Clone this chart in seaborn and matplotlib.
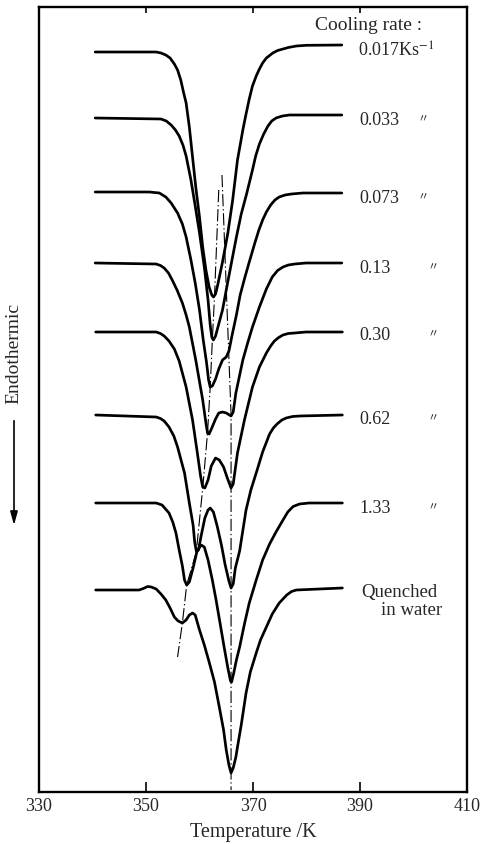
import matplotlib
matplotlib.use("Agg")
import matplotlib.pyplot as plt
import seaborn as sns
import pandas as pd

# ---------------- data (temperature in K, DSC signal in arbitrary units) -------------
cooling_labels = ["0.017", "0.033", "0.073", "0.13", "0.30", "0.62", "1.33", "Quenched"]

T_0017 = [340.5, 351.9, 352.8, 353.7, 354.5, 355.3, 355.9, 356.5, 357.0, 357.5, 358.1, 358.7,
          359.3, 360.0, 360.6, 361.2, 361.8, 362.3, 362.6, 363.0, 363.4, 364.3, 365.3, 366.2,
          367.1, 368.1, 368.7, 369.3, 369.9, 370.6, 371.2, 371.8, 372.5, 373.7, 374.6, 375.6,
          376.6, 378.1, 380.0, 386.6]
S_0017 = [0, 0, -1, -3, -6, -12, -18, -28, -40, -51, -75, -105,
          -135, -165, -195, -218, -235, -243, -245, -242, -233, -210, -181, -148,
          -108, -78, -62, -47, -34, -24, -17, -11, -6, -1, 1.5, 3,
          4.5, 6, 6.7, 7]

T_0033 = [340.5, 352.8, 353.8, 354.7, 355.5, 356.2, 356.9, 357.5, 358.4, 359.2, 360.0, 360.9,
          361.6, 362.0, 362.3, 362.6, 363.0, 363.5, 364.3, 365.0, 366.0, 366.9, 367.8, 368.8,
          369.9, 370.5, 371.2, 372.0, 372.8, 373.5, 374.3, 375.5, 376.8, 386.6]
S_0033 = [0, -1, -3, -7, -12, -18, -27, -38, -62, -88, -115, -149,
          -182, -207, -219, -222, -218, -208, -192, -172, -144, -119, -96, -76,
          -52, -38, -26, -16, -8, -3, 0, 2, 3, 3]

T_0073 = [340.5, 350.6, 352.5, 353.7, 354.7, 355.9, 356.8, 357.5, 358.4, 359.2, 360.0, 360.7,
          361.3, 361.7, 362.0, 362.4, 363.0, 363.6, 364.3, 365.0, 365.5, 366.1, 366.9, 367.6,
          368.5, 369.3, 370.4, 371.1, 371.8, 372.5, 373.3, 374.1, 374.9, 376.0, 377.2, 379.3,
          386.6]
S_0073 = [0, 0, -1, -5, -11, -21, -32, -45, -68, -91, -118, -148,
          -170, -188, -195, -194, -187, -177, -168, -165, -159, -143, -123, -103,
          -85, -70, -50, -38, -28, -20, -13, -8, -5, -3, -2, -1,
          -1]

T_013 = [340.5, 351.9, 352.7, 353.4, 354.2, 354.9, 355.8, 356.8, 357.5, 358.1, 359.3, 360.6,
         361.2, 361.5, 361.8, 362.3, 363.0, 363.6, 364.3, 365.0, 365.6, 365.9, 366.3, 366.8,
         368.1, 369.0, 369.9, 371.2, 372.5, 373.6, 374.6, 375.6, 376.6, 377.8, 379.9, 386.6]
S_013 = [0, -1, -2.5, -5, -10, -17, -27, -40, -52, -64, -97, -137,
         -160, -170, -171, -165, -156, -150, -149, -150, -152, -153, -149, -130,
         -97, -80, -64, -44, -26, -14, -7.5, -4, -2, -1, 0, 0]

T_030 = [340.6, 351.9, 352.7, 353.4, 354.3, 355.3, 356.2, 356.8, 357.5, 358.7, 359.6, 360.2,
         360.6, 361.0, 361.6, 362.2, 363.0, 363.7, 364.5, 365.2, 365.9, 366.3, 367.1, 368.4,
         369.9, 371.2, 372.5, 373.3, 374.0, 374.8, 375.6, 376.6, 377.8, 379.9, 386.7]
S_030 = [0, 0, -1.5, -4, -9, -17, -29, -41, -55, -88, -121, -144,
         -155, -156, -148, -134, -126, -128, -135, -146, -156, -152, -121, -88,
         -55, -35, -21, -14, -9, -5.5, -3, -1.5, -1, 0, 0]

T_062 = [340.6, 351.9, 352.7, 353.4, 354.3, 355.2, 355.9, 356.5, 357.2, 358.1, 358.8, 359.1,
         359.4, 359.8, 360.3, 361.0, 361.6, 362.0, 362.6, 363.3, 364.1, 364.8, 365.5, 365.9,
         366.3, 366.7, 367.5, 368.7, 369.6, 370.6, 371.8, 373.1, 373.8, 374.6, 375.4, 376.2,
         377.4, 378.7, 386.7]
S_062 = [0, -2, -3.5, -6, -12, -21, -32, -44, -58, -88, -110, -127,
         -136, -135, -121, -103, -95, -93, -97, -111, -130, -150, -166, -173,
         -169, -153, -136, -95, -75, -58, -37, -19, -13, -8.5, -5, -3,
         -1.5, -1, 0]

T_133 = [340.6, 351.9, 353.0, 354.3, 355.0, 355.6, 356.2, 356.8, 357.2, 357.6, 358.1, 358.8,
         359.5, 360.3, 360.9, 361.6, 362.4, 363.1, 363.9, 364.6, 365.3, 365.8, 366.0, 366.4,
         366.9, 367.5, 368.4, 369.3, 370.6, 371.8, 373.1, 374.3, 375.5, 376.5, 377.5, 378.7,
         380.5, 386.7]
S_133 = [0, 0, -2, -10, -19, -30, -47, -63, -77, -82, -79, -65,
         -49, -42, -44, -57, -77, -97, -122, -144, -165, -178, -179, -170,
         -157, -144, -121, -100, -77, -57, -41, -29, -18, -9, -3.5, -1,
         0, 0]

T_quench = [340.6, 348.7, 349.5, 350.3, 351.0, 351.9, 352.8, 353.7, 354.5, 355.3, 356.0, 356.8,
            357.5, 358.1, 358.7, 359.2, 360.0, 360.9, 361.8, 362.8, 363.7, 364.5, 365.0, 365.5,
            365.9, 366.3, 366.8, 367.1, 367.8, 368.7, 369.5, 370.6, 371.4, 372.5, 373.6, 374.9,
            376.3, 377.2, 378.1, 386.7]
S_quench = [0, 0, 1.5, 3.5, 3, 1, -4, -10, -18, -27, -31, -33,
            -30, -25, -23, -25, -40, -55, -72, -92, -117, -140, -160, -175,
            -183, -178, -167, -157, -135, -103, -82, -63, -50, -37, -24, -13,
            -5, -1.5, 0, 2]

# guide lines through the peak temperatures (T, plotted level)
peakA_T = [364.2, 365.9, 365.9]
peakA_y = [617, 377, 2]
peakB_T = [363.6, 362.8, 362.4, 362.0, 361.5, 360.6, 359.4, 357.6, 356.8, 355.9]
peakB_y = [602, 495, 452, 405, 359, 304, 240, 207, 169, 135]

x_ticks = [330, 350, 370, 390, 410]

# ---------------- layout ----------------
offsets = [740, 674, 600, 529, 460, 377, 289, 202]
label_T = [389.6, 389.9, 389.9, 389.9, 389.9, 389.9, 389.9, 390.3]
label_base = [735, 667, 589, 519, 452, 368, 279, 195]
ditto_T = [None, 400.8, 400.8, 402.7, 402.7, 402.7, 402.7, None]
ditto_y = [None, 673, 595, 525, 458, 374, 285, None]

curves_T = [T_0017, T_0033, T_0073, T_013, T_030, T_062, T_133, T_quench]
curves_S = [S_0017, S_0033, S_0073, S_013, S_030, S_062, S_133, S_quench]

sns.set_style("ticks")
plt.rcParams["font.family"] = ["Liberation Serif", "Noto Sans CJK JP", "DejaVu Serif"]
plt.rcParams["mathtext.fontset"] = "stix"

fig = plt.figure(figsize=(4.82, 8.44), dpi=100)
ax = fig.add_axes([39 / 482, 52 / 844, 428 / 482, 785 / 844])

for name, T, S, off in zip(cooling_labels, curves_T, curves_S, offsets):
    df = pd.DataFrame({"T": T, "y": [off + s for s in S]})
    sns.lineplot(data=df, x="T", y="y", ax=ax, color="black", lw=1.95,
                 sort=False, estimator=None, solid_joinstyle="round",
                 solid_capstyle="round")

dashdot = (0, (11, 2.5, 1.2, 2.5))
sns.lineplot(x=peakA_T, y=peakA_y, ax=ax, color="black", lw=0.8, sort=False,
             estimator=None, linestyle=dashdot)
sns.lineplot(x=peakB_T, y=peakB_y, ax=ax, color="black", lw=0.8, sort=False,
             estimator=None, linestyle=dashdot)

ax.set_xlim(330, 410)
ax.set_ylim(0, 785)
ax.set_xticks(x_ticks)
ax.set_xticklabels([str(t) for t in x_ticks], fontsize=13)
ax.set_yticks([])
ax.tick_params(axis="x", direction="in", length=7.5, width=1.4, top=True, pad=4)
for t in ax.xaxis.get_major_ticks():
    t.tick2line.set_markersize(4)
for sp in ax.spines.values():
    sp.set_linewidth(1.7)
    sp.set_color("black")
ax.set_xlabel("Temperature /K", fontsize=14.5, labelpad=6)
ax.set_ylabel("")

# labels
ax.text(381.5, 762, "Cooling rate :", fontsize=14, va="baseline", ha="left")
for i, name in enumerate(cooling_labels):
    if name == "Quenched":
        ax.text(label_T[i], label_base[i], "Quenched", fontsize=13.5, va="baseline", ha="left")
        ax.text(394.0, 177, "in water", fontsize=13.5, va="baseline", ha="left")
        continue
    txt = name + ("Ks$^{-1}$" if i == 0 else "")
    ax.text(label_T[i], label_base[i], txt, fontsize=13, va="baseline", ha="left")
    if ditto_T[i] is not None:
        ax.text(ditto_T[i], ditto_y[i], "〃", fontsize=8, va="center", ha="left",
                family=["Noto Sans CJK JP"])

# Endothermic arrow on the left
fig.text(14 / 482, 1 - 353 / 844, "Endothermic", rotation=90, fontsize=14,
         ha="center", va="center")
ax.annotate("", xy=(14 / 482, 1 - 528 / 844), xytext=(14 / 482, 1 - 418 / 844),
            xycoords="figure fraction", textcoords="figure fraction",
            arrowprops=dict(arrowstyle="-|>,head_length=0.8,head_width=0.22",
                            color="black", lw=1.2))

fig.savefig("out.png", dpi=100)
